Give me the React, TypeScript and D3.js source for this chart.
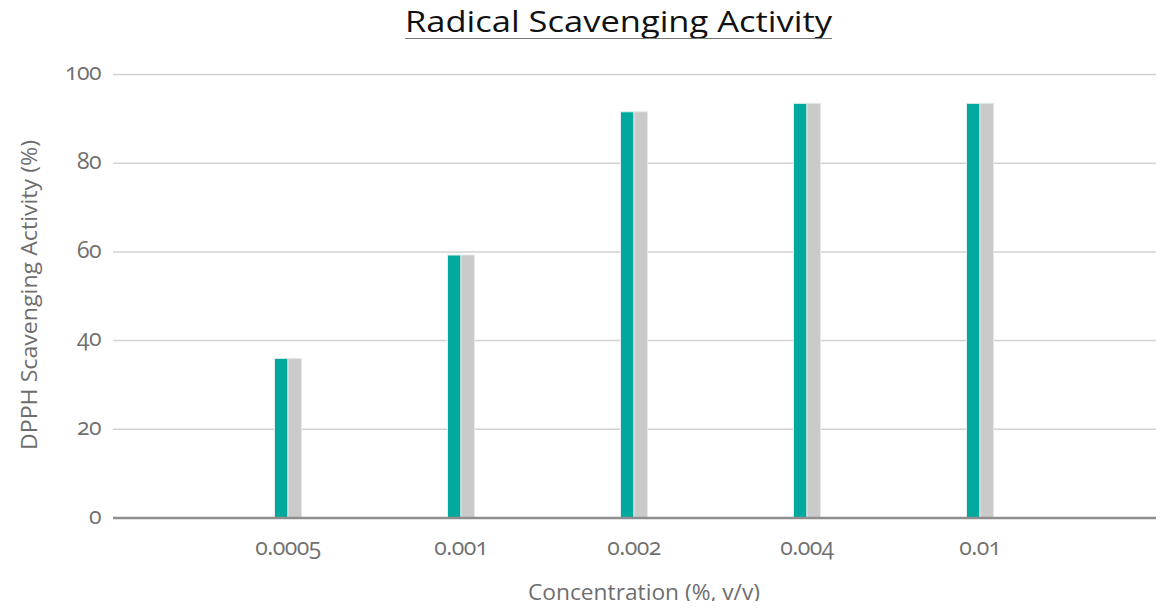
import { useEffect, useRef } from 'react';
import * as d3 from 'd3';

const concentrations = ['0.0005', '0.001', '0.002', '0.004', '0.01'];
const sampleValues = [36, 59.3, 91.6, 93.5, 93.5];
const referenceValues = [36, 59.3, 91.6, 93.5, 93.5];
const yTicks = [0, 20, 40, 60, 80, 100];

export default function App() {
  const containerRef = useRef<HTMLDivElement>(null);

  useEffect(() => {
    if (!containerRef.current) return;
    d3.select(containerRef.current).selectAll('*').remove();

    const width = 1164;
    const height = 609;
    const plotLeft = 113;
    const plotRight = 1164;
    const font = '"Open Sans", "Noto Sans", sans-serif';

    const svg = d3
      .select(containerRef.current)
      .append('svg')
      .attr('width', width)
      .attr('height', height)
      .style('display', 'block');

    const x = d3.scalePoint<string>().domain(concentrations).range([288, 980]);
    const y = d3.scaleLinear().domain([0, 100]).range([518, 74.5]);
    const barW = 13.5;

    // grid
    svg
      .append('g')
      .selectAll('line')
      .data(yTicks.filter((t) => t > 0))
      .join('line')
      .attr('x1', plotLeft)
      .attr('x2', plotRight)
      .attr('y1', (d) => y(d))
      .attr('y2', (d) => y(d))
      .attr('stroke', '#d2d2d2')
      .attr('stroke-width', 1.5);

    // y tick labels
    svg
      .append('g')
      .selectAll('text')
      .data(yTicks)
      .join('text')
      .attr('x', 101)
      .attr('y', (d) => y(d))
      .attr('dy', '0.25em')
      .attr('text-anchor', 'end')
      .attr('font-family', font)
      .attr('font-size', 23)
      .attr('letter-spacing', -0.5)
      .style('font-variant-numeric', 'oldstyle-nums')
      .attr('fill', '#707070')
      .text((d) => d);

    // bars
    const bars = svg.append('g');
    bars
      .selectAll('rect.sample')
      .data(concentrations)
      .join('rect')
      .attr('class', 'sample')
      .attr('x', (d) => x(d)! - barW)
      .attr('y', (_, i) => y(sampleValues[i]))
      .attr('width', barW)
      .attr('height', (_, i) => y(0) - y(sampleValues[i]))
      .attr('fill', '#00a99d')
      .attr('stroke', '#e6efee')
      .attr('stroke-width', 1);

    bars
      .selectAll('rect.ref')
      .data(concentrations)
      .join('rect')
      .attr('class', 'ref')
      .attr('x', (d) => x(d)!)
      .attr('y', (_, i) => y(referenceValues[i]))
      .attr('width', barW)
      .attr('height', (_, i) => y(0) - y(referenceValues[i]))
      .attr('fill', '#cacaca')
      .attr('stroke', '#e3e8e8')
      .attr('stroke-width', 1);

    // baseline
    svg
      .append('line')
      .attr('x1', plotLeft)
      .attr('x2', plotRight)
      .attr('y1', y(0))
      .attr('y2', y(0))
      .attr('stroke', '#8e8e8e')
      .attr('stroke-width', 2.5);

    // x tick labels
    svg
      .append('g')
      .selectAll('text')
      .data(concentrations)
      .join('text')
      .attr('x', (d) => x(d)!)
      .attr('y', 555)
      .attr('text-anchor', 'middle')
      .attr('font-family', font)
      .attr('font-size', 23)
      .attr('letter-spacing', -0.5)
      .style('font-variant-numeric', 'oldstyle-nums')
      .attr('fill', '#707070')
      .text((d) => d);

    // axis titles
    svg
      .append('text')
      .attr('x', 644)
      .attr('y', 600)
      .attr('text-anchor', 'middle')
      .attr('font-family', font)
      .attr('font-size', 21)
      .attr('textLength', 232)
      .attr('lengthAdjust', 'spacingAndGlyphs')
      .attr('fill', '#6e6e6e')
      .text('Concentration (%, v/v)');

    svg
      .append('text')
      .attr('transform', 'translate(37,295) rotate(-90)')
      .attr('text-anchor', 'middle')
      .attr('font-family', font)
      .attr('font-size', 21)
      .attr('textLength', 310)
      .attr('lengthAdjust', 'spacingAndGlyphs')
      .attr('fill', '#6e6e6e')
      .text('DPPH Scavenging Activity (%)');

    // title
    svg
      .append('text')
      .attr('x', 618.5)
      .attr('y', 32)
      .attr('text-anchor', 'middle')
      .attr('font-family', font)
      .attr('font-size', 29)
      .attr('textLength', 427)
      .attr('lengthAdjust', 'spacingAndGlyphs')
      .attr('fill', '#111')
      .text('Radical Scavenging Activity');

    svg
      .append('line')
      .attr('x1', 405)
      .attr('x2', 832)
      .attr('y1', 38.5)
      .attr('y2', 38.5)
      .attr('stroke', '#777')
      .attr('stroke-width', 1.2);
  }, []);

  return <div ref={containerRef} style={{ margin: -8 }}></div>;
}
